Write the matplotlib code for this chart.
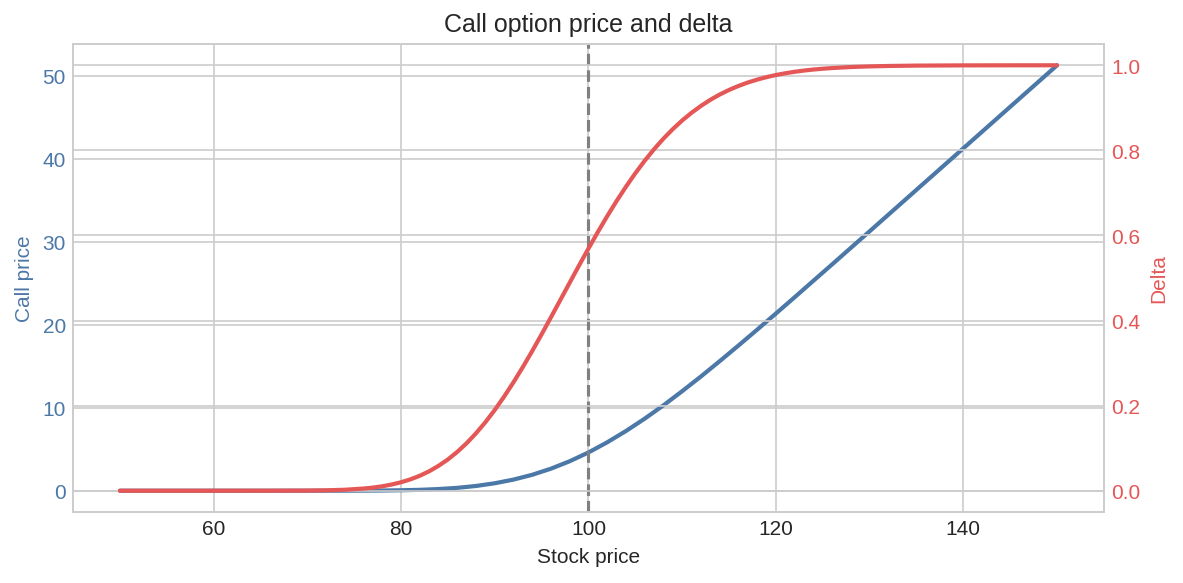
import matplotlib
matplotlib.use("Agg")
import matplotlib.pyplot as plt
import seaborn as sns

# ---------------------------------
# Values
# ---------------------------------
stock = [50, 55, 60, 65, 70, 72, 74, 76, 78, 80, 82, 84, 86, 88, 90, 92, 94, 96, 98,
         100, 102, 104, 106, 108, 110, 112, 114, 116, 118, 120, 122, 124, 126,
         130, 135, 140, 145, 150]
call_price = [0.0, 0.0, 0.0, 0.0, 0.0, 0.003, 0.005, 0.012, 0.026, 0.056, 0.108, 0.202,
              0.347, 0.572, 0.898, 1.341, 1.918, 2.657, 3.553,
              4.609, 5.832, 7.192, 8.680, 10.284, 11.991, 13.761, 15.604, 17.483,
              19.399, 21.344, 23.304, 25.289, 27.265,
              31.248, 36.245, 41.243, 46.242, 51.242]

stock_delta = [50, 55, 60, 65, 70, 72, 74,
               76, 77, 78, 79, 80, 81, 82, 83, 84, 85, 86, 87, 88, 89,
               90, 91, 92, 93, 94, 95, 96, 97, 98, 99,
               100, 101, 102, 103, 104, 105, 106, 107, 108, 109,
               110, 111, 112, 113, 114, 115, 116, 117, 118, 119,
               120, 121, 122, 123, 124, 125, 126,
               128, 130, 132, 135, 140, 145, 150]
delta = [0.0, 0.0, 0.0, 0.00002, 0.00035, 0.00094, 0.00229,
         0.00511, 0.00738, 0.01045, 0.01457, 0.0199, 0.0267, 0.03515, 0.04572, 0.0585,
         0.07353, 0.0913, 0.11175, 0.1350, 0.16107,
         0.1898, 0.22128, 0.2550, 0.29092, 0.3285, 0.36775, 0.4079, 0.44845, 0.4892, 0.5297,
         0.5694, 0.60812, 0.6454, 0.68098, 0.7146, 0.74625, 0.7757, 0.80278, 0.8276, 0.85002,
         0.8703, 0.88843, 0.9045, 0.91881, 0.9312, 0.94204, 0.9514, 0.95949, 0.9663, 0.97219,
         0.9771, 0.98127, 0.9847, 0.98762, 0.9900, 0.99194, 0.9935,
         0.9959, 0.9974, 0.99841, 0.99925, 0.9998, 0.99995, 1.0]
strike = 100

blue = "#4C78A8"
red = "#E45756"

sns.set_style("whitegrid")
plt.rcParams['font.family'] = ['Liberation Sans', 'DejaVu Sans']

fig, ax1 = plt.subplots(figsize=(7.893, 3.893), dpi=150)
ax1.plot(stock, call_price, color=blue, lw=2)
ax1.axvline(strike, color="gray", ls="--", lw=1.5)
ax1.set_xlabel("Stock price")
ax1.set_ylabel("Call price", color=blue)
ax1.tick_params(axis="y", labelcolor=blue, length=0)
ax1.tick_params(axis="x", length=0)
ax1.set_title("Call option price and delta")

ax2 = ax1.twinx()
ax2.plot(stock_delta, delta, color=red, lw=2)
ax2.set_ylabel("Delta", color=red)
ax2.tick_params(axis="y", labelcolor=red, length=0)

fig.subplots_adjust(left=0.0617, right=0.9324, top=0.923, bottom=0.1216)
fig.savefig("out.png", dpi=150)
